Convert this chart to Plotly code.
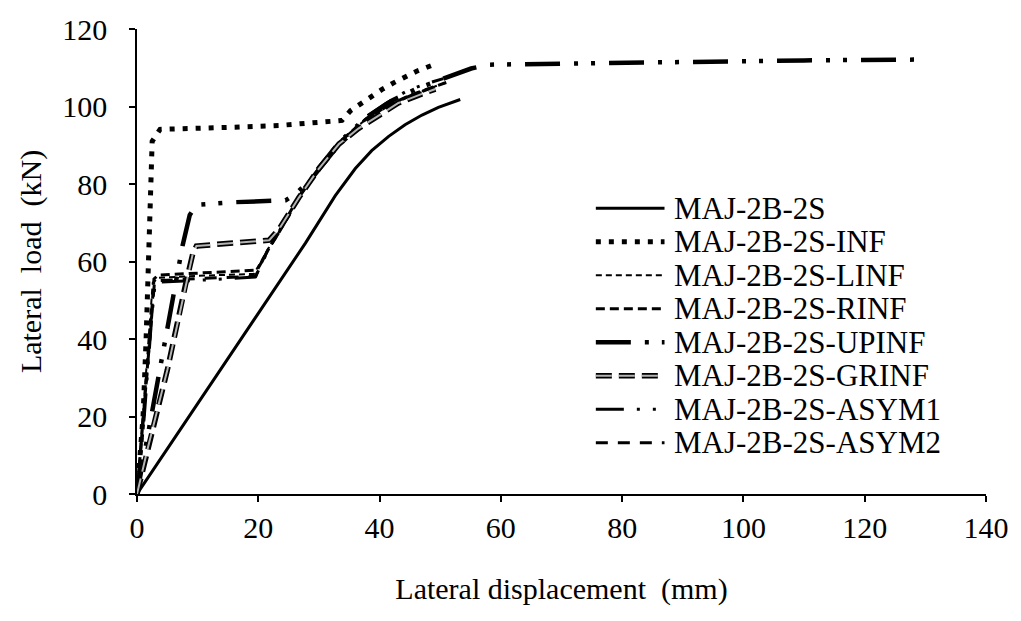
import plotly.graph_objects as go

# Lateral load vs lateral displacement for the 2-bay, 2-storey frame variants
bare_x = [0, 10, 20, 27.8, 32.7, 36, 38.7, 41.5, 44.2, 47, 49.7, 53.3]
bare_y = [0, 23.2, 46.6, 64.8, 77, 84, 88.6, 92.3, 95.3, 97.8, 99.8, 101.8]

inf_x = [0, 0.6, 1.0, 1.5, 1.9, 2.2, 2.5, 3.8, 10, 16.9, 23.4, 31.6, 33.8,
         35.2, 36.8, 38.5, 40.4, 42.3, 44.2, 46.1, 48.6]
inf_y = [0, 10, 20, 40, 60, 80, 91, 94.1, 94.3, 94.7, 95.1, 95.9, 96.4,
         98.9, 100.6, 102.7, 104.4, 106.1, 107.6, 109.1, 110.6]

linf_x = [0, 1, 2, 2.6, 3.5, 10, 19.3, 20.2, 21.5, 23.4, 26.7, 30, 33.3,
          37.7, 41.5, 45.3, 48.5, 50.2]
linf_y = [0, 20, 42, 54.5, 55.8, 56.3, 56.8, 59.5, 63, 67.5, 76.5, 84, 90.5,
          96.7, 100.3, 102.9, 104.8, 105.8]

rinf_x = [0, 1.1, 2.2, 2.8, 3.5, 10, 19.8, 20.6, 21.8, 23.6, 26.9, 30.2,
          33.5, 37.9, 41.7, 45.5, 48.7, 51]
rinf_y = [0, 20, 42, 55.5, 56.5, 57, 57.8, 60, 63.5, 68, 77, 84.5, 91, 97,
          100.5, 103.2, 105, 106.2]

upinf_x = [0, 3.9, 5.9, 7.5, 8.7, 9.8, 16, 24.5, 26.2, 28.9, 32.8, 35, 38.2,
           42, 46, 50.2, 55.1, 58, 70, 95, 110, 128.2]
upinf_y = [0, 34, 51, 64, 72, 74.6, 75.3, 75.8, 77.5, 81.6, 89.2, 92.5, 97.6,
           101.5, 104.5, 107, 109.8, 110.8, 111.1, 111.6, 111.9, 112.1]

grinf_x = [0, 1.8, 5, 8, 9.2, 9.8, 15, 21.8, 23.4, 26.7, 30, 33.3, 36.5,
           39.8, 43.1, 46.9, 49.2]
grinf_y = [0, 12, 32, 54, 62, 64, 64.6, 65.5, 68.3, 76.5, 84, 90.3, 94.3,
           97.6, 100.9, 103.2, 104.5]

asym1_x = [0, 1.2, 2.4, 3, 10.8, 19.5, 20.5, 21.7, 23.5, 26.8, 30, 33.3,
           37.5, 41, 44.5, 47.3, 50.5]
asym1_y = [0, 20, 45, 54.6, 55.2, 56, 59.2, 63.2, 68, 77, 84.5, 91, 97,
           100.8, 104, 105.7, 107.2]

asym2_x = [0, 1.1, 2.3, 2.9, 10, 19.6, 20.4, 21.6, 23.4, 26.7, 30, 33.3,
           37.7, 41.5, 45.3, 48.5, 50.6]
asym2_y = [0, 20, 43, 55, 55.6, 56.2, 59.3, 63, 67.5, 76.5, 84, 90.5, 96.7,
           100.3, 102.9, 104.8, 106]

x_ticks = [0, 20, 40, 60, 80, 100, 120, 140]
y_ticks = [0, 20, 40, 60, 80, 100, 120]

FONT = "Liberation Serif, Times New Roman, serif"
GRINF_CORE = "#b4b4b4"

# series name, x, y, line width, dash pattern
series = [
    ("MAJ-2B-2S", bare_x, bare_y, 3, "solid"),
    ("MAJ-2B-2S-INF", inf_x, inf_y, 5, "5px,8px"),
    ("MAJ-2B-2S-LINF", linf_x, linf_y, 2, "6px,4px"),
    ("MAJ-2B-2S-RINF", rinf_x, rinf_y, 3, "9px,5px"),
    ("MAJ-2B-2S-UPINF", upinf_x, upinf_y, 4.5, "35px,14px,4px,13px,4px,14px"),
    ("MAJ-2B-2S-GRINF", grinf_x, grinf_y, 5.5, "16px,7px"),
    ("MAJ-2B-2S-ASYM1", asym1_x, asym1_y, 3, "28px,13px,3px,13px,3px,13px"),
    ("MAJ-2B-2S-ASYM2", asym2_x, asym2_y, 3, "12px,10px"),
]

fig = go.Figure()

for name, xs, ys, w, dash in series:
    fig.add_trace(go.Scatter(
        x=xs, y=ys, mode="lines", name=name, showlegend=False,
        line=dict(color="black", width=w, dash=dash), hoverinfo="skip",
    ))

# light core inside the outlined GRINF dashes
fig.add_trace(go.Scatter(
    x=grinf_x, y=grinf_y, mode="lines", name="MAJ-2B-2S-GRINF core",
    showlegend=False, line=dict(color=GRINF_CORE, width=2, dash="16px,7px"),
    hoverinfo="skip",
))

# key: line sample + label per series, rows 34 px apart
PLOT_L, PLOT_R, PLOT_T, PLOT_B = 137, 990, 22, 494
pw, ph = PLOT_R - PLOT_L, PLOT_B - PLOT_T


def px_to_paper(xp, yp):
    return (xp - PLOT_L) / pw, (PLOT_B - yp) / ph


shapes = []
annotations = []
for i, (name, xs, ys, w, dash) in enumerate(series):
    row_y = 204 + 34 * i
    x0, yy = px_to_paper(598, row_y)
    x1, _ = px_to_paper(667 if i != 5 else 661, row_y)
    shapes.append(dict(type="line", xref="paper", yref="paper",
                       x0=x0, x1=x1, y0=yy, y1=yy,
                       line=dict(color="black", width=w, dash=dash)))
    if i == 5:
        shapes.append(dict(type="line", xref="paper", yref="paper",
                           x0=x0, x1=x1, y0=yy, y1=yy,
                           line=dict(color=GRINF_CORE, width=2, dash=dash)))
    tx, _ = px_to_paper(675, row_y)
    annotations.append(dict(xref="paper", yref="paper", x=tx, y=yy,
                            xanchor="left", yanchor="middle", showarrow=False,
                            text=name,
                            font=dict(family=FONT, size=31, color="black")))

axis_common = dict(
    showline=True, linecolor="black", linewidth=1.5,
    ticks="outside", ticklen=6, tickwidth=1.5, tickcolor="black",
    showgrid=False, zeroline=False,
    tickfont=dict(family=FONT, size=30, color="black"),
)

fig.update_xaxes(
    range=[0, 140], tickvals=x_ticks, ticktext=[str(v) for v in x_ticks],
    title=dict(text="Lateral displacement  (mm)", standoff=35,
               font=dict(family=FONT, size=30, color="black")),
    **axis_common,
)
fig.update_yaxes(
    range=[0, 120], tickvals=y_ticks, ticktext=[str(v) for v in y_ticks],
    ticklabelstandoff=16,
    title=dict(text="Lateral  load  (kN)", standoff=12,
               font=dict(family=FONT, size=30, color="black")),
    **axis_common,
)

fig.update_layout(
    width=1021, height=621,
    margin=dict(l=PLOT_L, r=1021 - PLOT_R, t=PLOT_T, b=621 - PLOT_B),
    paper_bgcolor="white", plot_bgcolor="white",
    font=dict(family=FONT, size=30, color="black"),
    shapes=shapes, annotations=annotations,
    showlegend=False,
)

fig.write_html("out.html")
